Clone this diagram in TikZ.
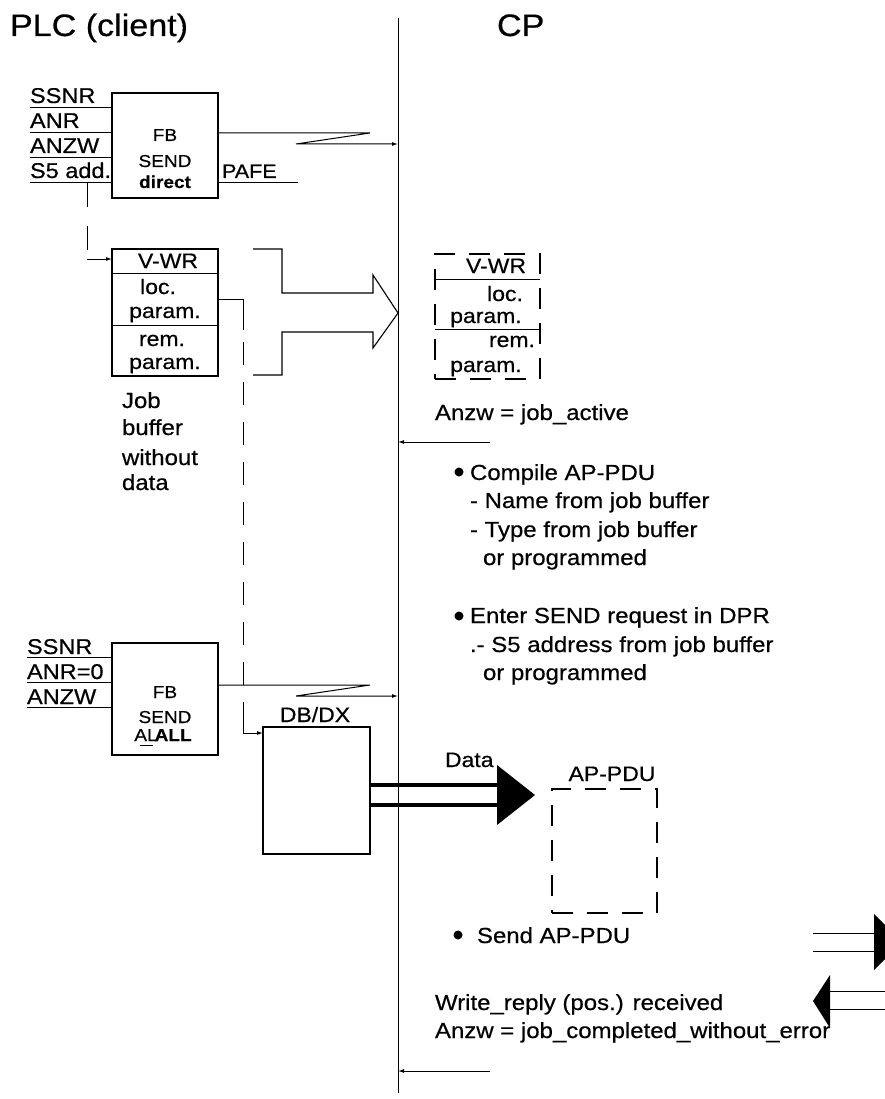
\documentclass[tikz,border=0pt]{standalone}
\usepackage{fontspec}
\setmainfont{Liberation Sans}[FakeStretch=1.1,FakeBold=0.5]
\usetikzlibrary{arrows.meta}
\newcommand{\fsT}{\fontsize{31}{36}\selectfont}
\newcommand{\fsM}{\fontsize{21.8}{28}\selectfont}
\newcommand{\fsI}{\fontsize{21.4}{26}\selectfont}
\newcommand{\fsB}{\fontsize{17.3}{22}\selectfont}
\newcommand{\fsP}{\fontsize{19.6}{24}\selectfont}
\newcommand{\fsV}{\fontsize{20.9}{26}\selectfont}
\begin{document}
\begin{tikzpicture}[x=1pt,y=-1pt,line width=1pt,
  lbl/.style={inner sep=0pt,outer sep=0pt,anchor=base west},
  clbl/.style={inner sep=0pt,outer sep=0pt,anchor=base},
  boxn/.style={draw,line width=1.2pt,inner sep=0pt,outer sep=0pt},
  dsh/.style={dash pattern=on 23pt off 17pt},
  dshbox/.style={draw,line width=1.1pt,inner sep=0pt,outer sep=0pt,dash pattern=on 21pt off 14pt},
  arr/.style={-{Latex[length=6pt,width=4pt]}},
  thick3/.style={line width=3.2pt}]
\useasboundingbox (0,0) rectangle (885,1099);
\fill[white] (0,0) rectangle (885,1099);

% titles
\node[lbl,font=\fsT] (plc) at (10,36) {PLC (client)};
\node[lbl,font=\fsT] (cp) at (497,36) {CP};

% time line
\coordinate (ltop) at (398,18);
\coordinate (lbot) at (398,1093);
\draw (ltop) -- (lbot);

% ---------- FB SEND direct ----------
\node[boxn,minimum width=106pt,minimum height=105pt] (fb1) at (165,145.5) {};
\foreach \n/\y in {a/108,b/133,c/158,d/183}{
  \coordinate (in1\n) at (30,\y);
  \draw (in1\n) -- (in1\n -| fb1.west);
}
\node[lbl,font=\fsI] (l1a) at (30,103) {SSNR};
\node[lbl,font=\fsI] (l1b) at (30,128) {ANR};
\node[lbl,font=\fsI] (l1c) at (30,153) {ANZW};
\node[lbl,font=\fsI] (l1d) at (30,178) {S5 add.};
\node[clbl,font=\fsB] (fb1t1) at (165,141) {FB};
\node[clbl,font=\fsB] (fb1t2) at (165,167) {SEND};
\node[clbl,font=\fsB\bfseries] (fb1t3) at (165,188) {direct};
\node[lbl,font=\fsP] (pafe) at (222,178) {PAFE};
\coordinate (pafeend) at (298,183);
\draw (pafeend -| fb1.east) -- (pafeend);

% lightning connector 1
\coordinate (z1a) at (370,133);
\coordinate (z1b) at (296,144);
\coordinate (cp1) at (398,144);
\draw[arr] (z1a -| fb1.east) -- (z1a) -- (z1b) -- (cp1);

% ---------- job buffer ----------
\node[boxn,minimum width=106pt,minimum height=127pt] (buf) at (165,312.5) {};
\draw (buf.west |- 0,273) -- (buf.east |- 0,273);
\draw (buf.west |- 0,325) -- (buf.east |- 0,325);
\node[clbl,font=\fsV] (b1) at (168,268) {V-WR};
\node[clbl,font=\fsV] (b2) at (158,294) {loc.};
\node[clbl,font=\fsV] (b3) at (165,318) {param.};
\node[clbl,font=\fsV] (b4) at (162,346) {rem.};
\node[clbl,font=\fsV] (b5) at (165,369) {param.};

% dashed connector from S5 add to job buffer
\coordinate (d1top) at (87,183);
\coordinate (d1bot) at (87,250);
\coordinate (d1c) at (87,259);
\draw[dash pattern=on 24pt off 19pt] (d1top) -- (d1bot);
\draw[arr] (d1c) -- (d1c -| buf.west);

% outline arrow job buffer -> CP
\draw[line width=1.1pt,line join=miter]
  (253,249) -- (282,249) -- (282,293) -- (373,293) -- (373,275) -- (398,313)
  -- (373,348) -- (373,332) -- (282,332) -- (282,375) -- (253,375);

% job buffer caption
\node[lbl,font=\fsM] (jb1) at (122,408) {Job};
\node[lbl,font=\fsM] (jb2) at (122,435) {buffer};
\node[lbl,font=\fsM] (jb3) at (122,465) {without};
\node[lbl,font=\fsM] (jb4) at (122,490) {data};

% ---------- CP copy of job buffer ----------
\node[dshbox,minimum width=105pt,minimum height=125pt] (cpbuf) at (487.5,316.5) {};
\draw (cpbuf.west |- 0,279) -- (cpbuf.east |- 0,279);
\draw (cpbuf.west |- 0,329) -- (cpbuf.east |- 0,329);
\node[clbl,font=\fsV] (c1) at (496,273) {V-WR};
\node[clbl,font=\fsV] (c2) at (505,301) {loc.};
\node[clbl,font=\fsV] (c3) at (486,323) {param.};
\node[clbl,font=\fsV] (c4) at (512,347) {rem.};
\node[clbl,font=\fsV] (c5) at (486,372) {param.};

% Anzw = job_active
\node[lbl,font=\fsM] (t1) at (435,420) {Anzw = job\_active};
\coordinate (r1) at (490,442);
\draw[arr] (r1) -- (r1 -| ltop);

% bullets
\fill (459,472) circle (4.5pt);
\node[lbl,font=\fsM] (t2) at (470,480) {Compile AP-PDU};
\node[lbl,font=\fsM] (t3) at (470,508) {- Name from job buffer};
\node[lbl,font=\fsM] (t4) at (470,537) {- Type from job buffer};
\node[lbl,font=\fsM] (t5) at (483,565) {or programmed};
\fill (459,616) circle (4.5pt);
\node[lbl,font=\fsM] (t6) at (470,623) {Enter SEND request in DPR};
\node[lbl,font=\fsM] (t7) at (470,652) {.- S5 address from job buffer};
\node[lbl,font=\fsM] (t8) at (483,680) {or programmed};

% ---------- FB SEND ALL ----------
\node[boxn,minimum width=106pt,minimum height=112pt] (fb2) at (165,699) {};
\foreach \n/\y in {a/657,b/682,c/707}{
  \coordinate (in2\n) at (27,\y);
  \draw (in2\n) -- (in2\n -| fb2.west);
}
\node[lbl,font=\fsI] (l2a) at (27,654) {SSNR};
\node[lbl,font=\fsI] (l2b) at (27,679) {ANR=0};
\node[lbl,font=\fsI] (l2c) at (27,704) {ANZW};
\node[clbl,font=\fsB] (fb2t1) at (165,698) {FB};
\node[clbl,font=\fsB] (fb2t2) at (165,723) {SEND};
\node[clbl,font=\fsB] (fb2t3) at (163,741) {AL\kern-3pt\textbf{ALL}};
\draw (140,745) -- (153,745);

% lightning connector 2
\coordinate (z2a) at (370,685);
\coordinate (z2b) at (296,696);
\coordinate (cp2) at (398,696);
\draw[arr] (z2a -| fb2.east) -- (z2a) -- (z2b) -- (cp2);

% ---------- DB/DX ----------
\node[boxn,minimum width=107pt,minimum height=127pt] (db) at (316.5,790.5) {};
\node[clbl,font=\fsV] (dbl) at (315,722) {DB/DX};

% dashed connector from job buffer (loc. param) to DB/DX
\coordinate (d2a) at (243,299);
\coordinate (d2b) at (243,330);
\coordinate (d2c) at (243,342);
\coordinate (d2d) at (243,725);
\coordinate (d2e) at (243,733);
\draw (d2a -| buf.east) -- (d2a) -- (d2b);
\draw[dsh] (d2c) -- (d2d);
\draw[arr] (d2d) -- (d2e) -- (d2e -| db.west);

% data arrow
\node[lbl,font=\fsV] (datal) at (445,767) {Data};
\coordinate (da1) at (499,785);
\coordinate (da2) at (499,805);
\draw[thick3] (da1 -| db.east) -- (da1);
\draw[thick3] (da2 -| db.east) -- (da2);
\fill (497,765) -- (535,795) -- (497,825) -- cycle;

% AP-PDU
\node[dshbox,minimum width=105pt,minimum height=124pt] (apdu) at (604.5,851) {};
\node[clbl,font=\fsV] (apdul) at (612,781) {AP-PDU};

% Send AP-PDU
\fill (458,935) circle (4.5pt);
\node[lbl,font=\fsM] (t9) at (477,943) {Send AP-PDU};
\coordinate (s1) at (813,933);
\coordinate (s2) at (813,951);
\draw (s1) -- ++(63,0);
\draw (s2) -- ++(63,0);
\fill (874,914) -- (902,942) -- (874,970) -- cycle;

% Write reply
\node[lbl,font=\fsM] (t10) at (435,1010) {Write\_reply (pos.) received};
\coordinate (w1) at (886,991);
\coordinate (w2) at (886,1009);
\draw (w1) -- (829,991);
\draw (w2) -- (829,1009);
\fill (830,975) -- (813,1001) -- (830,1028) -- cycle;

\node[lbl,font=\fsM] (t11) at (435,1038) {Anzw = job\_completed\_without\_error};
\coordinate (r2) at (490,1071);
\draw[arr] (r2) -- (r2 -| ltop);
\end{tikzpicture}
\end{document}
